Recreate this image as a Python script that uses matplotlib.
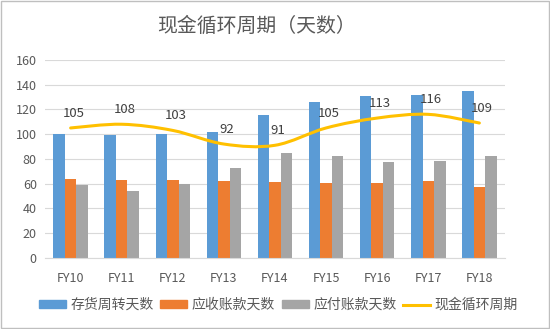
import numpy as np
import matplotlib
matplotlib.use("Agg")
import matplotlib.pyplot as plt
from matplotlib.path import Path
from matplotlib.patches import PathPatch, Rectangle
from matplotlib.lines import Line2D

plt.rcParams['font.family'] = ['Noto Sans CJK SC', 'DejaVu Sans']

years = ["FY10", "FY11", "FY12", "FY13", "FY14", "FY15", "FY16", "FY17", "FY18"]
inventory_days = [100, 99.5, 100, 102, 115.5, 126, 130.5, 132, 135]
receivable_days = [63.8, 63, 63, 62.5, 61, 60.3, 60.3, 62, 57]
payable_days = [59, 54.4, 59.8, 72.5, 85, 82, 77.3, 78.4, 82.4]
cash_cycle = [105, 108, 103, 92, 91, 105, 113, 116, 109]

series_names = ["存货周转天数", "应收账款天数", "应付账款天数", "现金循环周期"]
colors = ["#5B9BD5", "#ED7D31", "#A5A5A5", "#FFC000"]
text_color = "#595959"

fig = plt.figure(figsize=(5.5, 3.29), dpi=100)
ax = fig.add_axes([0.082, 0.216, 0.836, 0.602])

x = np.arange(len(years))
w = 0.225
ax.bar(x - w, inventory_days, w, color=colors[0], zorder=2)
ax.bar(x, receivable_days, w, color=colors[1], zorder=2)
ax.bar(x + w, payable_days, w, color=colors[2], zorder=2)

# smoothed line (catmull-rom style bezier through the data points)
pts = np.column_stack([x, cash_cycle]).astype(float)
verts = [pts[0]]
codes = [Path.MOVETO]
for i in range(len(pts) - 1):
    p0 = pts[i - 1] if i > 0 else pts[i]
    p1 = pts[i]
    p2 = pts[i + 1]
    p3 = pts[i + 2] if i + 2 < len(pts) else pts[i + 1]
    c1 = p1 + (p2 - p0) / 6
    c2 = p2 - (p3 - p1) / 6
    verts += [c1, c2, p2]
    codes += [Path.CURVE4] * 3
ax.add_patch(PathPatch(Path(verts, codes), facecolor="none", edgecolor=colors[3],
                       lw=2.2, zorder=3, capstyle="round"))

for xi, v in zip(x, cash_cycle):
    ax.annotate(str(v), (xi, v), xytext=(2, 6), textcoords="offset points",
                ha="center", va="bottom", fontsize=9.5, color="#404040", zorder=4)

ax.set_xlim(-0.5, len(years) - 0.5)
ax.set_ylim(0, 160)
ax.set_yticks(range(0, 161, 20))
ax.set_xticks(x)
ax.set_xticklabels(years)
ax.tick_params(axis="both", length=0, labelsize=9, labelcolor=text_color)
ax.tick_params(axis="y", pad=6)
ax.tick_params(axis="x", pad=10)
ax.grid(axis="y", color="#D9D9D9", lw=0.8, zorder=0)
for s in ["top", "right", "left"]:
    ax.spines[s].set_visible(False)
ax.spines["bottom"].set_color("#D9D9D9")

fig.text(0.466, 0.92, "现金循环周期（天数）", ha="center", va="center",
         fontsize=14.3, color=text_color)

handles = [Rectangle((0, 0), 1, 1, color=c) for c in colors[:3]]
handles.append(Line2D([0], [0], color=colors[3], lw=2.2))
fig.legend(handles, series_names, loc="center", bbox_to_anchor=(0.506, 0.073), ncol=4,
           frameon=False, fontsize=10, labelcolor=text_color, handlelength=1.95,
           handleheight=0.5, handletextpad=0.3, columnspacing=0.5)

fig.add_artist(Rectangle((0.002, 0.003), 0.996, 0.994, transform=fig.transFigure,
                         fill=False, edgecolor="#BFBFBF", lw=1))

fig.savefig("out.png", dpi=100)
